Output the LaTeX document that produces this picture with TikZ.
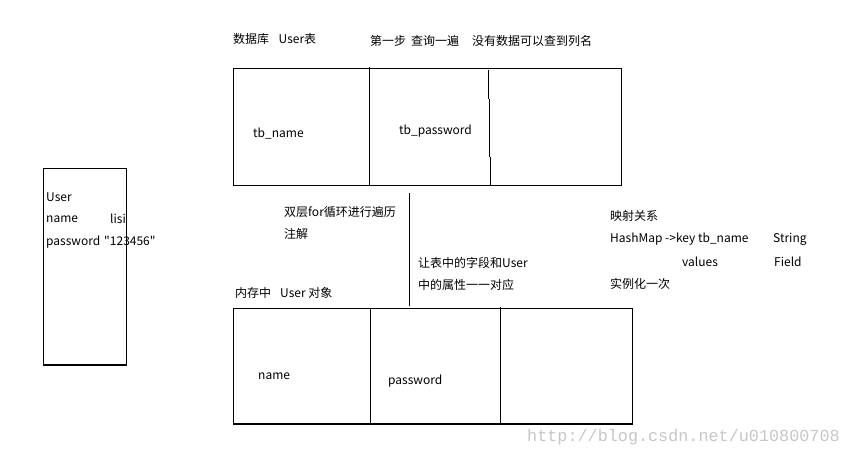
\documentclass[tikz,border=0pt]{standalone}
\usepackage{fontspec}
\newfontfamily\cjkfont{Noto Sans CJK SC}
\newfontfamily\wmfont{Liberation Mono}
\begin{document}
\begin{tikzpicture}[x=1pt,y=-1pt,
  box/.style={draw=black,line width=1.3pt},
  div/.style={draw=black,line width=1.1pt},
  lbl/.style={anchor=west,inner sep=0pt,font=\cjkfont\fontsize{12}{14}\selectfont,text=black},
  wm/.style={anchor=west,inner sep=0pt,font=\wmfont\fontsize{16.8}{18}\selectfont,text=black!22}]
\useasboundingbox[fill=white] (0,0) rectangle (849,457);
% top table
\draw[box] (233.3,68.3) rectangle (621.7,185.3);
\draw[div] (369.3,66.7) -- (369.3,185.3);
\draw[div] (488.7,70) -- (488.7,98.7);
\draw[div] (489.3,98.7) -- (489.3,156.7);
\draw[div] (490.3,156.7) -- (490.3,185.3);
% vertical separator
\draw[div] (409.5,193) -- (409.5,305.7);
% bottom table
\draw[box] (233.3,308.3) rectangle (632.3,424);
\draw[div] (370.3,308.3) -- (370.3,424);
\draw[div] (500.7,307) -- (500.7,424);
% User box
\draw[box] (43.5,168.3) rectangle (126.5,365);
% texts
\node[lbl] (t1) at (233,39) {数据库\hspace{9.5pt}User表};
\node[lbl] (t2) at (370,41) {第一步\hspace{5pt}查询一遍\hspace{13pt}没有数据可以查到列名};
\node[lbl] (t3) at (253,134) {tb\_name};
\node[lbl] (t4) at (399,131) {tb\_password};
\node[lbl] (u1) at (46,197) {User};
\node[lbl] (u2) at (46,219) {name};
\node[lbl] (u3) at (110,219) {lisi};
\node[lbl] (u4) at (46,242) {password\hspace{4pt}"123456"};
\node[lbl] (m1) at (284,212) {双层for循环进行遍历};
\node[lbl] (m2) at (284,234) {注解};
\node[lbl] (m3) at (418,263) {让表中的字段和User};
\node[lbl] (m4) at (418,285) {中的属性一一对应};
\node[lbl] (m5) at (235,293) {内存中\hspace{9pt}User 对象};
\node[lbl] (h1) at (610,216) {映射关系};
\node[lbl] (h2) at (610,239) {HashMap ->key tb\_name};
\node[lbl] (h3) at (773,239) {String};
\node[lbl] (h4) at (682,262) {values};
\node[lbl] (h5) at (774,262) {Field};
\node[lbl] (h6) at (610,284) {实例化一次};
\node[lbl] (b1) at (258,376) {name};
\node[lbl] (b2) at (388,381) {password};
\node[wm] (w) at (527,437) {http://blog.csdn.net/u010800708};
\end{tikzpicture}
\end{document}
